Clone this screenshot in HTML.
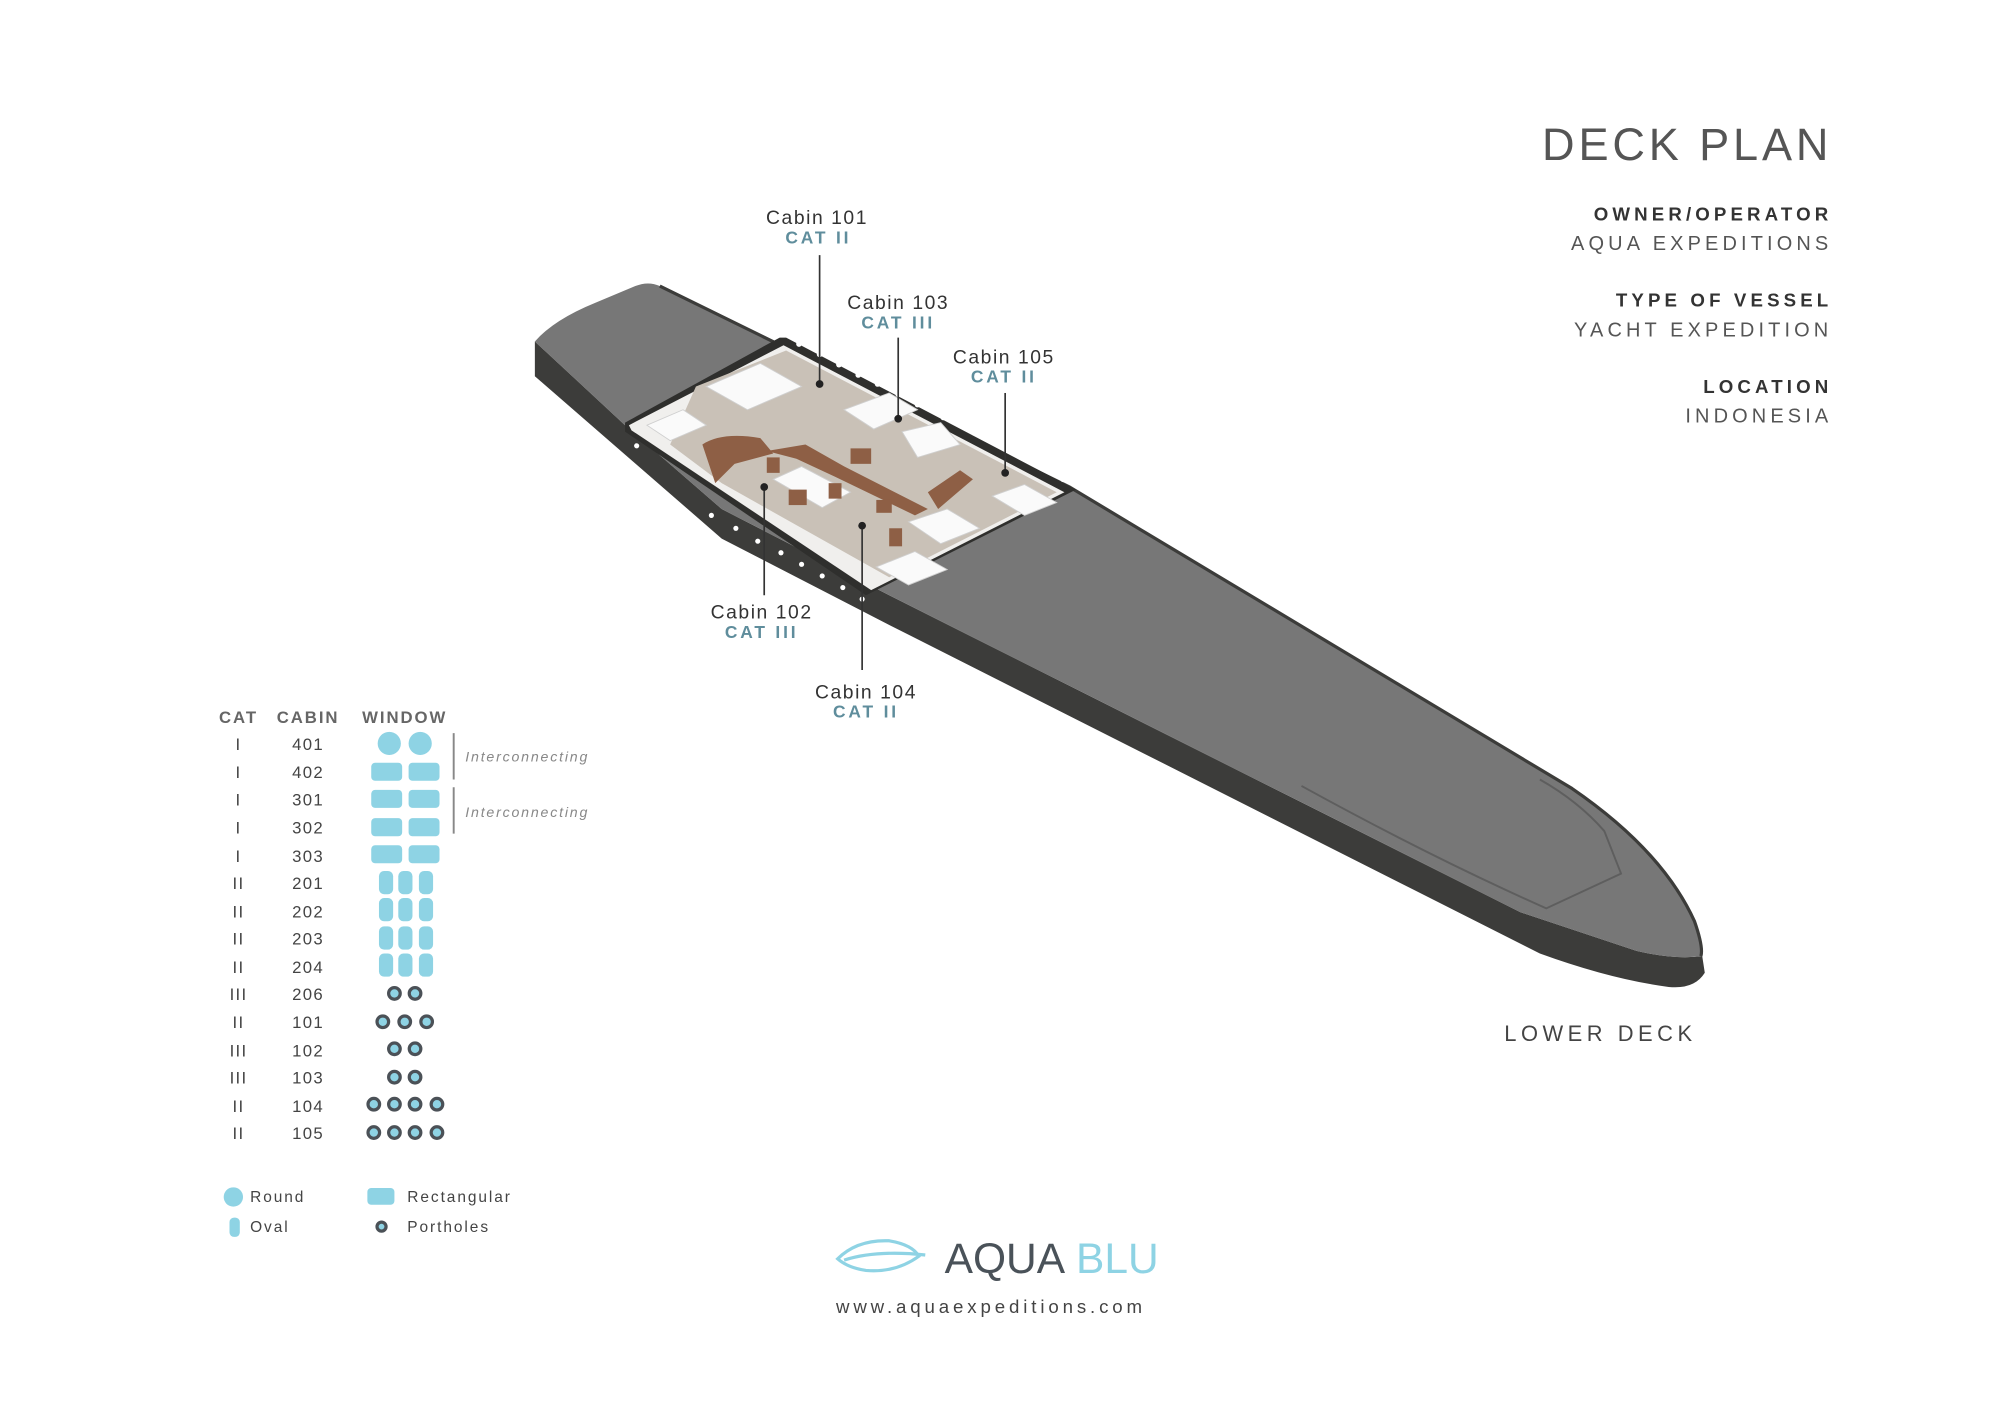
<!DOCTYPE html>
<html><head><meta charset="utf-8"><style>
html,body{margin:0;padding:0;background:#fff;}
svg{display:block;}
text{font-family:"Liberation Sans",sans-serif;}
</style></head><body>
<svg width="2000" height="1407" viewBox="0 0 1552 1092" xmlns="http://www.w3.org/2000/svg">
<rect width="1552" height="1092" fill="#fff"/>
<!-- Title block -->
<g text-anchor="end" fill="#444">
<text x="1422" y="124" font-size="35" letter-spacing="3" fill="#555">DECK PLAN</text>
<text x="1422" y="171" font-size="14.5" font-weight="bold" letter-spacing="3.2" fill="#333">OWNER/OPERATOR</text>
<text x="1422" y="194" font-size="15.5" letter-spacing="3.2" fill="#555">AQUA EXPEDITIONS</text>
<text x="1422" y="238" font-size="14.5" font-weight="bold" letter-spacing="3.2" fill="#333">TYPE OF VESSEL</text>
<text x="1422" y="261" font-size="15.5" letter-spacing="3.2" fill="#555">YACHT EXPEDITION</text>
<text x="1422" y="305" font-size="14.5" font-weight="bold" letter-spacing="3.2" fill="#333">LOCATION</text>
<text x="1422" y="328" font-size="15.5" letter-spacing="3.2" fill="#555">INDONESIA</text>
</g>
<!-- Hull side -->
<path d="M415,265 L485,330 L560,395 L690,462 L1180,708 L1270,738 Q1300,745 1321,742 L1323,755 Q1315,768 1295,766 Q1250,760 1195,740 L688,484 L560,418 L415,292 Z" fill="#3c3c3a"/>
<!-- Deck top -->
<path d="M415,265 Q430,248 462,235 L493,222 Q503,218 512,222 L830,378 L1220,612 Q1290,660 1315,715 Q1322,735 1320,742 Q1300,745 1270,738 L1180,708 L690,462 L560,395 L485,330 Z" fill="#777777"/>
<path d="M512,222 L830,378 L1220,612 Q1290,660 1315,715 Q1322,735 1320,742" fill="none" stroke="#3c3c3a" stroke-width="2.5"/>
<!-- bow raised deck outline -->
<path d="M1010,610 Q1110,665 1200,705 L1258,678 L1245,645 Q1225,622 1195,605" fill="none" stroke="#5e5e5e" stroke-width="1.5"/>
<!-- cutaway inner walls dark -->
<path d="M485,328 L605,262 L610,262 L835,380 L672,462 L485,335 Z" fill="#2f2f2d"/>
<!-- interior floor -->
<path d="M488,330 L608,268 L826,382 L676,458 L490,334 Z" fill="#f0efed"/>
<path d="M540,300 L610,272 L820,382 L690,448 L560,375 L520,345 Z" fill="#c9c1b7"/>
<g fill="#fafafa" stroke="#d0d0d0" stroke-width="0.7">
<path d="M548,300 L590,282 L622,300 L580,318 Z"/>
<path d="M655,318 L690,305 L712,318 L678,333 Z"/>
<path d="M600,372 L622,362 L660,382 L638,394 Z"/>
<path d="M770,385 L795,376 L820,390 L795,400 Z"/>
<path d="M680,440 L710,428 L735,442 L705,454 Z"/>
<path d="M502,330 L530,318 L548,330 L520,342 Z"/>
<path d="M700,335 L730,328 L745,345 L712,355 Z"/>
<path d="M705,405 L735,395 L760,410 L730,422 Z"/>
</g>
<g fill="#8e5f45">
<path d="M545,345 Q560,335 590,340 L600,352 L570,360 L555,375 Z"/>
<path d="M720,382 L745,365 L755,372 L728,395 Z"/>
<path d="M595,350 L625,345 L655,362 L720,395 L710,400 L648,370 L618,356 Z"/>
<rect x="612" y="380" width="14" height="12"/>
<rect x="660" y="348" width="16" height="12"/>
<rect x="595" y="355" width="10" height="12"/>
<rect x="643" y="375" width="10" height="12"/>
<rect x="690" y="410" width="10" height="14"/>
<rect x="680" y="388" width="12" height="10"/>
</g>
<!-- portholes -->
<g fill="#fff">
<circle cx="620" cy="267" r="2.2"/><circle cx="636" cy="275" r="2.2"/><circle cx="651" cy="283" r="2.2"/><circle cx="666" cy="291" r="2.2"/><circle cx="681" cy="298" r="2.2"/><circle cx="697" cy="306" r="2.2"/><circle cx="712" cy="314" r="2.2"/><circle cx="732" cy="324" r="2.2"/><circle cx="756" cy="336" r="2.2"/><circle cx="780" cy="348" r="2.2"/><circle cx="804" cy="360" r="2.2"/><circle cx="825" cy="372" r="2.2"/>
<circle cx="494" cy="346" r="2"/><circle cx="552" cy="400" r="2"/><circle cx="571" cy="410" r="2"/><circle cx="588" cy="420" r="2"/><circle cx="606" cy="429" r="2"/><circle cx="622" cy="438" r="2"/><circle cx="638" cy="447" r="2"/><circle cx="654" cy="456" r="2"/><circle cx="669" cy="465" r="2"/>
</g>
<!-- callouts -->
<g stroke="#333" stroke-width="1.3">
<line x1="636" y1="198" x2="636" y2="298"/>
<line x1="697" y1="262" x2="697" y2="325"/>
<line x1="780" y1="305" x2="780" y2="367"/>
<line x1="593" y1="462" x2="593" y2="378"/>
<line x1="669" y1="520" x2="669" y2="408"/>
</g>
<g fill="#222"><circle cx="636" cy="298" r="3"/><circle cx="697" cy="325" r="3"/><circle cx="780" cy="367" r="3"/><circle cx="593" cy="378" r="3"/><circle cx="669" cy="408" r="3"/></g>
<g text-anchor="middle" font-size="15" letter-spacing="1.2" fill="#333">
<text x="634" y="174">Cabin 101</text>
<text x="697" y="240">Cabin 103</text>
<text x="779" y="282">Cabin 105</text>
<text x="591" y="480">Cabin 102</text>
<text x="672" y="542">Cabin 104</text>
</g>
<g text-anchor="middle" font-size="13.5" letter-spacing="2.2" fill="#5f8d9c" font-weight="bold">
<text x="635" y="189">CAT II</text>
<text x="697" y="255">CAT III</text>
<text x="779" y="297">CAT II</text>
<text x="591" y="495">CAT III</text>
<text x="672" y="557">CAT II</text>
</g>
<text x="1242" y="808" text-anchor="middle" font-size="17" letter-spacing="3.5" fill="#444">LOWER DECK</text>
<!-- Table -->
<g font-size="13" font-weight="bold" letter-spacing="1.5" fill="#666" text-anchor="middle">
<text x="185" y="561">CAT</text><text x="239" y="561">CABIN</text><text x="314" y="561">WINDOW</text>
</g>
<g font-size="13" letter-spacing="1" fill="#444" text-anchor="middle">
<text x="185" y="582">I</text><text x="239" y="582">401</text>
<text x="185" y="604">I</text><text x="239" y="604">402</text>
<text x="185" y="625">I</text><text x="239" y="625">301</text>
<text x="185" y="647">I</text><text x="239" y="647">302</text>
<text x="185" y="669">I</text><text x="239" y="669">303</text>
<text x="185" y="690">II</text><text x="239" y="690">201</text>
<text x="185" y="712">II</text><text x="239" y="712">202</text>
<text x="185" y="733">II</text><text x="239" y="733">203</text>
<text x="185" y="755">II</text><text x="239" y="755">204</text>
<text x="185" y="776">III</text><text x="239" y="776">206</text>
<text x="185" y="798">II</text><text x="239" y="798">101</text>
<text x="185" y="820">III</text><text x="239" y="820">102</text>
<text x="185" y="841">III</text><text x="239" y="841">103</text>
<text x="185" y="863">II</text><text x="239" y="863">104</text>
<text x="185" y="884">II</text><text x="239" y="884">105</text>
</g>
<g fill="#8ed3e4">
<circle cx="302" cy="577" r="9"/><circle cx="326" cy="577" r="9"/>
<rect x="288" y="592" width="24" height="14" rx="3"/><rect x="317" y="592" width="24" height="14" rx="3"/>
<rect x="288" y="613" width="24" height="14" rx="3"/><rect x="317" y="613" width="24" height="14" rx="3"/>
<rect x="288" y="635" width="24" height="14" rx="3"/><rect x="317" y="635" width="24" height="14" rx="3"/>
<rect x="288" y="656" width="24" height="14" rx="3"/><rect x="317" y="656" width="24" height="14" rx="3"/>
<rect x="294" y="676" width="11" height="18" rx="4"/><rect x="309" y="676" width="11" height="18" rx="4"/><rect x="325" y="676" width="11" height="18" rx="4"/>
<rect x="294" y="697" width="11" height="18" rx="4"/><rect x="309" y="697" width="11" height="18" rx="4"/><rect x="325" y="697" width="11" height="18" rx="4"/>
<rect x="294" y="719" width="11" height="18" rx="4"/><rect x="309" y="719" width="11" height="18" rx="4"/><rect x="325" y="719" width="11" height="18" rx="4"/>
<rect x="294" y="740" width="11" height="18" rx="4"/><rect x="309" y="740" width="11" height="18" rx="4"/><rect x="325" y="740" width="11" height="18" rx="4"/>
<circle cx="181" cy="929" r="7.5"/>
<rect x="178" y="945" width="8" height="15" rx="3.5"/>
<rect x="285" y="922" width="21" height="13" rx="3"/>
</g>
<g fill="#8ed3e4" stroke="#4b5157" stroke-width="2.5">
<circle cx="306" cy="771" r="4.5"/><circle cx="322" cy="771" r="4.5"/>
<circle cx="297" cy="793" r="4.5"/><circle cx="314" cy="793" r="4.5"/><circle cx="331" cy="793" r="4.5"/>
<circle cx="306" cy="814" r="4.5"/><circle cx="322" cy="814" r="4.5"/>
<circle cx="306" cy="836" r="4.5"/><circle cx="322" cy="836" r="4.5"/>
<circle cx="290" cy="857" r="4.5"/><circle cx="306" cy="857" r="4.5"/><circle cx="322" cy="857" r="4.5"/><circle cx="339" cy="857" r="4.5"/>
<circle cx="290" cy="879" r="4.5"/><circle cx="306" cy="879" r="4.5"/><circle cx="322" cy="879" r="4.5"/><circle cx="339" cy="879" r="4.5"/>
<circle cx="296" cy="952" r="3.5"/>
</g>
<g stroke="#888" stroke-width="1.5"><line x1="352" y1="569" x2="352" y2="605"/><line x1="352" y1="611" x2="352" y2="647"/></g>
<g font-size="11" font-style="italic" letter-spacing="1.4" fill="#888">
<text x="361" y="591">Interconnecting</text><text x="361" y="634">Interconnecting</text>
</g>
<g font-size="12" letter-spacing="1.5" fill="#444">
<text x="194" y="933">Round</text><text x="194" y="956">Oval</text>
<text x="316" y="933">Rectangular</text><text x="316" y="956">Portholes</text>
</g>
<!-- Logo -->
<g fill="none" stroke="#8ed3e4" stroke-width="2.5">
<path d="M650,977 Q665,962 690,963 Q708,966 713,975 Q695,988 672,986 Q658,984 650,977 Z"/>
<path d="M655,978 Q680,970 718,974"/>
</g>
<text x="733" y="988" font-size="33" fill="#4a5259">AQUA</text>
<text x="835" y="988" font-size="33" fill="#8ed3e4">BLU</text>
<text x="769" y="1019" text-anchor="middle" font-size="14.5" letter-spacing="3" fill="#444">www.aquaexpeditions.com</text>
</svg>
</body></html>
